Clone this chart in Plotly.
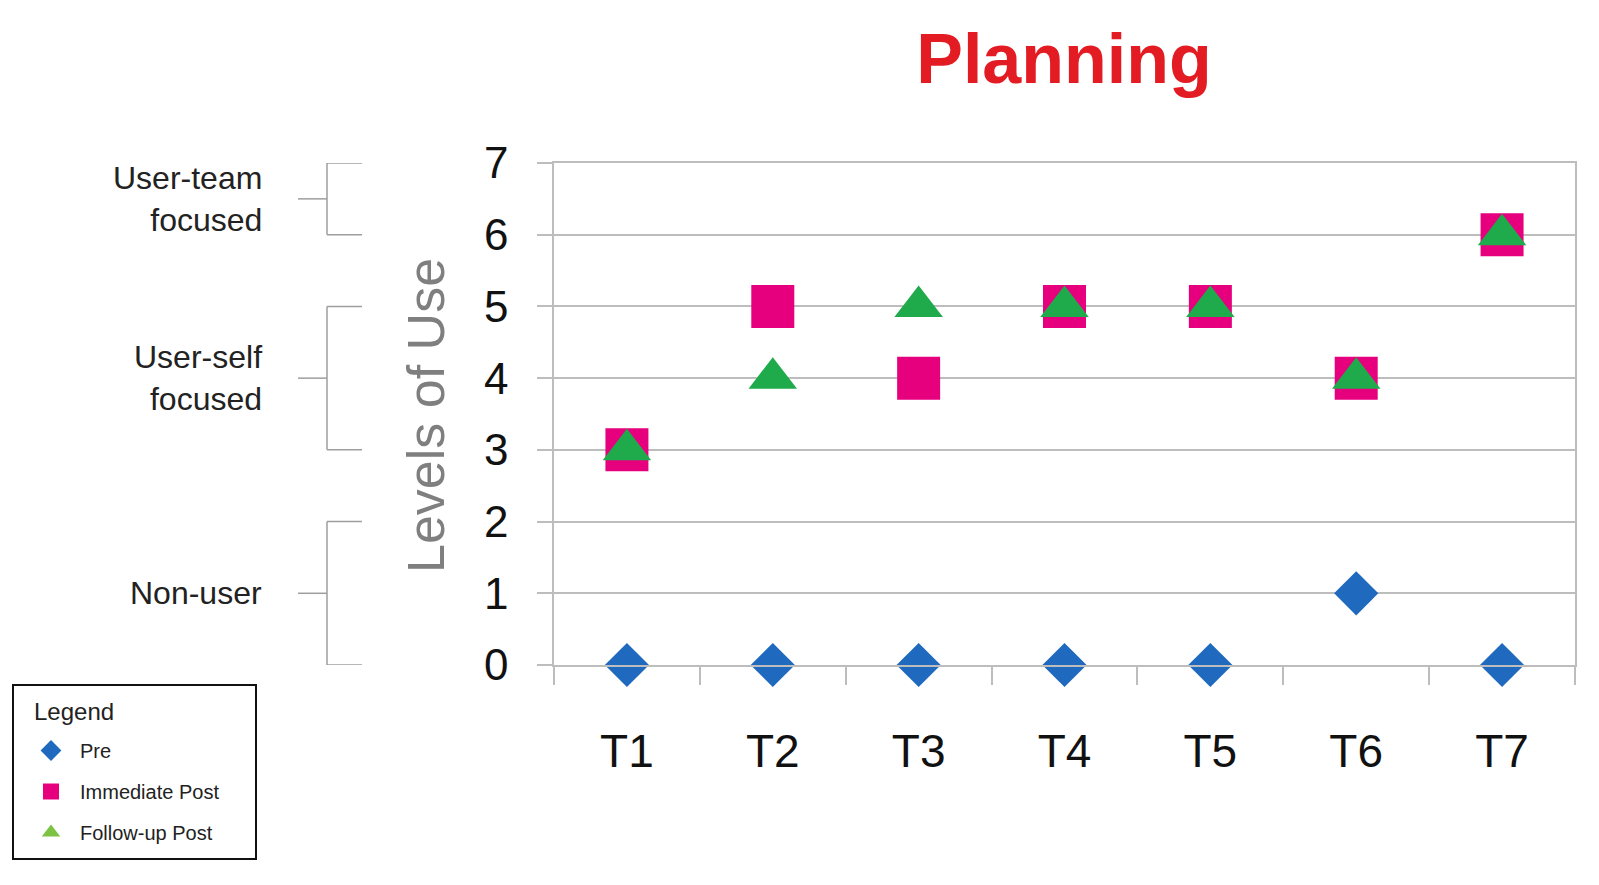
import plotly.graph_objects as go

# ---- data ----
teachers = ["T1", "T2", "T3", "T4", "T5", "T6", "T7"]
pre = [0, 0, 0, 0, 0, 1, 0]
immediate_post = [3, 5, 4, 5, 5, 4, 6]
follow_up_post = [3, 4, 5, 5, 5, 4, 6]
y_ticks = [0, 1, 2, 3, 4, 5, 6, 7]
bands = [  # (label, low, high)
    ("User-team<br>focused", 6, 7),
    ("User-self<br>focused", 3, 5),
    ("Non-user", 0, 2),
]

FONT = "Liberation Sans, Arial, Helvetica, sans-serif"
BLUE = "#1F69BF"
PINK = "#E6007E"
GREEN = "#1FAA4B"
LIME = "#7CC243"
GRID = "#BDBDBD"

W, H = 1599, 885
L, R, T, B = 554, 24, 163, 220
pw, ph = W - L - R, H - T - B


def px_x(p):
    return (p - L) / pw


def px_y(p):
    return (H - B - p) / ph


fig = go.Figure()

fig.add_trace(go.Scatter(x=teachers, y=pre, mode="markers", name="Pre", showlegend=False,
                         marker=dict(symbol="diamond", size=34, color=BLUE), cliponaxis=False))
fig.add_trace(go.Scatter(x=teachers, y=immediate_post, mode="markers", name="Immediate Post", showlegend=False,
                         marker=dict(symbol="square", size=43, color=PINK), cliponaxis=False))
fig.add_trace(go.Scatter(x=teachers, y=follow_up_post, mode="markers", name="Follow-up Post", showlegend=False,
                         marker=dict(symbol="triangle-up", size=42, color=GREEN), cliponaxis=False))

# legend entries
for nm, sym, col in [("Pre", "diamond", BLUE), ("Immediate Post", "square", PINK),
                     ("Follow-up Post", "triangle-up", LIME)]:
    fig.add_trace(go.Scatter(x=[None], y=[None], mode="markers", name=nm, legendgroup=nm,
                             marker=dict(symbol=sym, size=16, color=col)))

shapes = []
annotations = []
xv = px_x(327)
xh = px_x(362)
xm = px_x(298)
for label, lo, hi in bands:
    mid = (lo + hi) / 2
    line = dict(color="#9E9E9E", width=1.5)
    shapes.append(dict(type="line", xref="paper", yref="y", x0=xv, x1=xv, y0=lo, y1=hi, line=line))
    shapes.append(dict(type="line", xref="paper", yref="y", x0=xv, x1=xh, y0=lo, y1=lo, line=line))
    shapes.append(dict(type="line", xref="paper", yref="y", x0=xv, x1=xh, y0=hi, y1=hi, line=line))
    shapes.append(dict(type="line", xref="paper", yref="y", x0=xm, x1=xv, y0=mid, y1=mid, line=line))
    annotations.append(dict(text=label, xref="paper", yref="y", x=px_x(264), y=mid,
                            xanchor="right", yanchor="middle", align="right", showarrow=False,
                            font=dict(family=FONT, size=32, color="#222222")))

# y-axis title
annotations.append(dict(text="Levels of Use", xref="paper", yref="paper", x=px_x(426), y=px_y(416),
                        textangle=-90, xanchor="center", yanchor="middle", showarrow=False,
                        font=dict(family=FONT, size=52, color="#7F7F7F")))

# legend box and heading
shapes.append(dict(type="rect", xref="paper", yref="paper", x0=px_x(13), x1=px_x(256),
                   y0=px_y(685), y1=px_y(859), line=dict(color="#111111", width=2)))
annotations.append(dict(text="Legend", xref="paper", yref="paper", x=px_x(32), y=px_y(711),
                        xanchor="left", yanchor="middle", showarrow=False,
                        font=dict(family=FONT, size=24, color="#222222")))

fig.update_layout(
    width=W, height=H,
    margin=dict(l=L, r=R, t=T, b=B),
    paper_bgcolor="white", plot_bgcolor="white",
    title=dict(text="<b>Planning</b>", x=px_x(1064), xref="paper", xanchor="center",
               y=1 - 58 / H, yref="container", yanchor="middle",
               font=dict(family=FONT, size=70, color="#E31B23")),
    xaxis=dict(type="category", range=[-0.5, 6.5], showgrid=False, tickson="boundaries",
               ticks="outside", ticklen=18, tickcolor=GRID, tickwidth=1.5,
               showline=True, linecolor=GRID, linewidth=1.5, mirror=True,
               tickfont=dict(family=FONT, size=46, color="#111111"), ticklabelstandoff=45,
               fixedrange=True),
    yaxis=dict(range=[0, 7], tickvals=y_ticks, showgrid=True, gridcolor=GRID, gridwidth=1.5,
               ticks="outside", ticklen=15, tickcolor=GRID, tickwidth=1.5,
               showline=True, linecolor=GRID, linewidth=1.5, mirror=True, zeroline=False,
               tickfont=dict(family=FONT, size=44, color="#111111"), ticklabelstandoff=20,
               fixedrange=True),
    showlegend=True,
    legend=dict(x=px_x(22), y=px_y(731), xanchor="left", yanchor="top",
                bgcolor="rgba(0,0,0,0)", borderwidth=0, tracegroupgap=12, itemwidth=48,
                font=dict(family=FONT, size=20, color="#222222")),
    shapes=shapes,
    annotations=annotations,
)

fig.write_html("out.html")
